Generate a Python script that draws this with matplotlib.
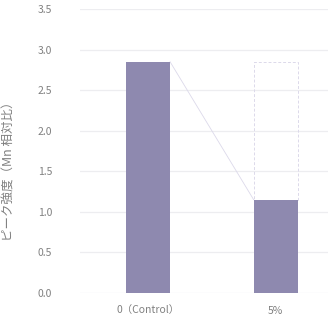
import numpy as np
import matplotlib
matplotlib.use('Agg')
import matplotlib.pyplot as plt

plt.rcParams['font.family'] = ['Noto Sans CJK JP', 'DejaVu Sans']

categories = ['0（Control）', '5%']
values = [2.85, 1.15]
yticks = [0.0, 0.5, 1.0, 1.5, 2.0, 2.5, 3.0, 3.5]

bar_color = '#8e89af'
text_color = '#808080'
grid_color = '#ededf0'
outline_color = '#dcd9ea'

fig = plt.figure(figsize=(3.28, 3.25), dpi=100)
ax = fig.add_axes([80/328, (325-293)/325, 248/328, (293-9)/325])

x = np.arange(len(categories))
width = 0.345
ax.bar(x, values, width=width, color=bar_color, zorder=3)

# dashed outline showing the reduction on the second bar
ax.bar(x[1], values[0] - values[1], width=width, bottom=values[1],
       fill=False, edgecolor=outline_color, linestyle=(0, (3, 2)), linewidth=0.7, zorder=2)
ax.plot([x[0] + width/2, x[1] - width/2], [values[0], values[1]],
        color=outline_color, linewidth=0.6, zorder=2)

ax.set_xlim(-0.533, 1.41)
ax.set_ylim(0, 3.5)
ax.set_yticks(yticks)
ax.set_yticklabels([f'{v:.1f}' for v in yticks])
ax.set_xticks(x)
ax.set_xticklabels(categories)
ax.grid(axis='y', color=grid_color, linewidth=0.9, zorder=0)
ax.set_axisbelow(True)
for s in ax.spines.values():
    s.set_visible(False)
ax.tick_params(axis='y', length=0, pad=20, labelsize=7.5, labelcolor=text_color)
ax.tick_params(axis='x', length=0, pad=9, labelsize=7.5, labelcolor=text_color)
ax.set_ylabel('ピーク強度（Mn 相対比）', fontsize=9, color=text_color)
ax.yaxis.set_label_coords(-64/248, (293-168)/284)

fig.savefig('out.png', dpi=100)
